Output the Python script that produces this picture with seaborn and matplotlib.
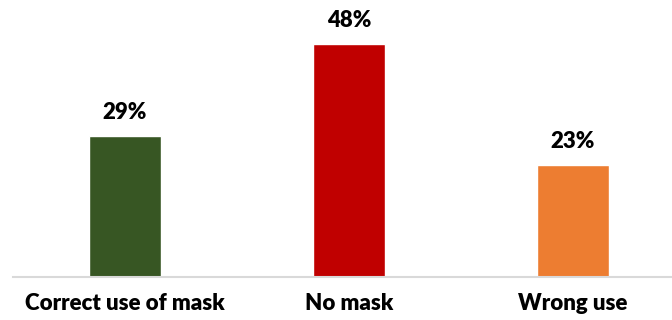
import matplotlib
matplotlib.use("Agg")
import matplotlib.pyplot as plt
import seaborn as sns
import pandas as pd

categories = ["Correct use of mask", "No mask", "Wrong use"]
values = [29, 48, 23]
colors = ["#375623", "#C00000", "#ED7D31"]

df = pd.DataFrame({"cat": categories, "val": values})

sns.set_theme(style="white")
plt.rcParams['font.family'] = ['Lato', 'DejaVu Sans']

fig = plt.figure(figsize=(6.72, 3.20), dpi=100)
ax = fig.add_axes([13/672, 43.5/320, 672/672, 276.5/320])
sns.barplot(data=df, x="cat", y="val", hue="cat", palette=colors, legend=False,
            width=0.317, ax=ax, saturation=1)
ax.set_xlim(-0.5, 2.5)
ax.set_ylim(0, 57.2)
for s in ["top", "right", "left"]:
    ax.spines[s].set_visible(False)
ax.spines["bottom"].set_color("#D9D9D9")
ax.spines["bottom"].set_linewidth(1.5)
ax.set_yticks([])
ax.set_xlabel("")
ax.set_ylabel("")
ax.tick_params(axis="x", length=0, pad=12, labelsize=16)
for lbl in ax.get_xticklabels():
    lbl.set_fontweight("heavy")
    lbl.set_color("black")
for i, v in enumerate(values):
    ax.annotate(f"{v}%", (i, v), xytext=(0, 17), textcoords="offset points",
                ha="center", va="center", fontsize=16, fontweight="heavy", color="black")
fig.savefig("out.png", dpi=100)
